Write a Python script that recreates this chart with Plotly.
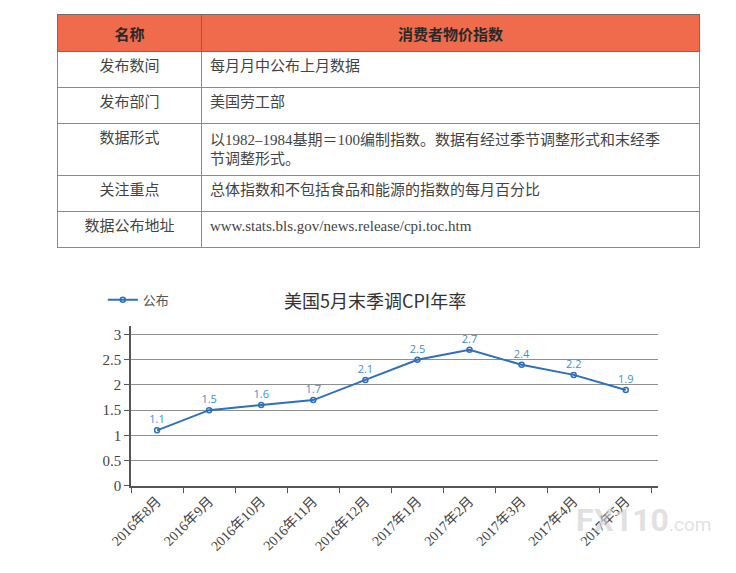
import plotly.graph_objects as go

# 表格数据
table_header = ["名称", "消费者物价指数"]
table_items = ["发布数间", "发布部门", "数据形式", "关注重点", "数据公布地址"]
table_desc = [
    "每月月中公布上月数据",
    "美国劳工部",
    "以1982–1984基期＝100编制指数。数据有经过季节调整形式和末经季<br>节调整形式。",
    "总体指数和不包括食品和能源的指数的每月百分比",
    "www.stats.bls.gov/news.release/cpi.toc.htm",
]

# 折线图数据
months = ["2016年8月", "2016年9月", "2016年10月", "2016年11月", "2016年12月",
          "2017年1月", "2017年2月", "2017年3月", "2017年4月", "2017年5月"]
cpi_yoy = [1.1, 1.5, 1.6, 1.7, 2.1, 2.5, 2.7, 2.4, 2.2, 1.9]

W, H = 736, 573
OFF = 8  # 页面 body 的默认边距


def px_x(p):
    return (p - OFF) / W


def px_y(p):
    return 1 - (p - OFF) / H


cjk = "Noto Sans CJK SC"
serif = "Liberation Serif, Noto Sans CJK SC"

fig = go.Figure()

fig.add_trace(go.Table(
    domain=dict(x=[px_x(37), px_x(698)], y=[px_y(256), px_y(15)]),
    columnwidth=[149, 512],
    header=dict(
        values=[f"<b>{h}</b>" for h in table_header],
        fill_color="#F06B4B",
        line=dict(color="#6e6e6e", width=1),
        align="center",
        font=dict(family=cjk, size=15, color="#2a2a2a"),
        height=33,
    ),
    cells=dict(
        values=[table_items, table_desc],
        fill_color="white",
        line=dict(color="#8a8a8a", width=1),
        align=["center", "left"],
        font=dict(family=[cjk, serif], size=[15, 15], color="#444"),
        height=36,
    ),
))

fig.add_trace(go.Scatter(
    x=months,
    y=cpi_yoy,
    name="公布",
    mode="lines+markers+text",
    line=dict(color="#2d6fc0", width=2),
    marker=dict(symbol="circle-open", size=5, color="#2d6fc0", line=dict(width=1.5)),
    text=[f"{v:.1f}" for v in cpi_yoy],
    textposition="top center",
    textfont=dict(family="Open Sans", size=11, color="#3d8fd4"),
    xaxis="x", yaxis="y",
))

fig.update_layout(
    width=W, height=H,
    margin=dict(l=0, r=0, t=0, b=0),
    paper_bgcolor="white",
    plot_bgcolor="white",
    showlegend=True,
    legend=dict(
        x=px_x(84), y=px_y(304), xanchor="left", yanchor="middle",
        font=dict(family=cjk, size=13, color="#555"),
        bgcolor="rgba(0,0,0,0)",
        itemwidth=30,
    ),
    xaxis=dict(
        domain=[px_x(113), px_x(655)],
        anchor="y",
        type="category",
        range=[-0.5, 9.61],
        showline=True, linecolor="#555", linewidth=1.5,
        ticks="outside", tickson="boundaries", ticklen=6, tickcolor="#555",
        tickangle=-45,
        tickfont=dict(family=serif, size=14, color="#444"),
        showgrid=False,
        zeroline=False,
    ),
    yaxis=dict(
        domain=[px_y(492.5), px_y(330)],
        anchor="x",
        range=[0, 3.18],
        tickvals=[0, 0.5, 1, 1.5, 2, 2.5, 3],
        ticktext=["0", "0.5", "1", "1.5", "2", "2.5", "3"],
        showline=True, linecolor="#555", linewidth=1.5,
        ticks="outside", ticklen=5, tickcolor="#555",
        tickfont=dict(family=serif, size=15, color="#444"),
        showgrid=True, gridcolor="#8f8f8f", gridwidth=1,
        zeroline=False,
    ),
    annotations=[
        dict(text="美国5月末季调CPI年率", x=px_x(364), y=px_y(304),
             xref="paper", yref="paper", xanchor="center", yanchor="middle",
             showarrow=False,
             font=dict(family=cjk, size=18, color="#333")),
        dict(text="<b>FX110</b><span style='font-size:19px'>.com</span>",
             x=px_x(641), y=px_y(527),
             xref="paper", yref="paper", xanchor="center", yanchor="middle",
             showarrow=False,
             font=dict(family="Roboto", size=32, color="rgba(205,205,205,0.6)")),
    ],
)

fig.write_html("out.html")
